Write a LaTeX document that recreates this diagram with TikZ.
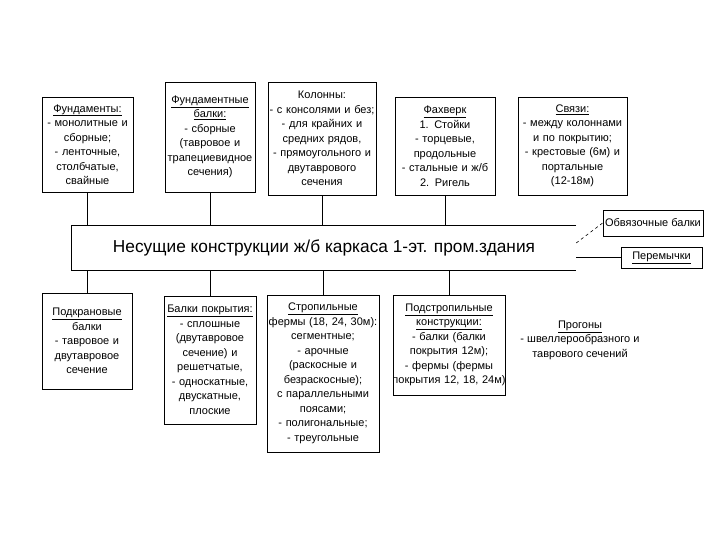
\documentclass[tikz,border=0pt]{standalone}
\usepackage{fontspec}
\setmainfont{Liberation Sans}
\begin{document}
\begin{tikzpicture}[x=1pt,y=-1pt,
  box/.style={draw, line width=0.8pt, align=center, inner sep=0pt, font=\fontsize{11}{14.5}\selectfont},
  plain/.style={align=center, inner sep=1pt, font=\fontsize{11}{14.5}\selectfont},
  conn/.style={line width=0.8pt}]
\fill[white] (0,0) rectangle (720,540);
\useasboundingbox (0,0) rectangle (720,540);
% top row
\node[box, minimum width=91pt, minimum height=95pt, text width=91pt] (f1) at (87.5,144.5)
  {\underline{Фундаменты:}\\- монолитные и\\сборные;\\- ленточные,\\столбчатые,\\свайные};
\node[box, minimum width=90pt, minimum height=110pt, text width=90pt] (f2) at (210,137)
  {\underline{Фундаментные}\\\underline{балки:}\\- сборные\\(тавровое и\\трапециевидное\\сечения)};
\node[box, minimum width=108pt, minimum height=113pt, text width=108pt] (f3) at (322,138.5)
  {Колонны:\\- с консолями и без;\\- для крайних и\\средних рядов,\\- прямоугольного и\\двутаврового\\сечения};
\node[box, minimum width=100pt, minimum height=98pt, text width=100pt] (f4) at (445,146)
  {\underline{Фахверк}\\1. Стойки\\- торцевые,\\продольные\\- стальные и ж/б\\2. Ригель};
\node[box, minimum width=109pt, minimum height=98pt, text width=109pt] (f5) at (572.5,146)
  {\underline{Связи:}\\- между колоннами\\и по покрытию;\\- крестовые (6м) и\\портальные\\(12-18м)};
% main
\node[minimum width=504pt, minimum height=44pt, inner sep=0pt, font=\fontsize{17.3}{20}\selectfont] (main) at (324,248)
  {Несущие конструкции ж/б каркаса 1-эт. пром.здания};
\draw[conn] (main.north east) -- (main.north west) -- (main.south west) -- (main.south east);
% bottom row
\node[box, minimum width=90pt, minimum height=96pt, text width=90pt] (b1) at (87,341)
  {\underline{Подкрановые}\\балки\\- тавровое и\\двутавровое\\сечение};
\node[box, minimum width=92pt, minimum height=128pt, text width=92pt] (b2) at (210,360)
  {\underline{Балки покрытия:}\\- сплошные\\(двутавровое\\сечение) и\\решетчатые,\\- односкатные,\\двускатные,\\плоские};
\node[box, minimum width=112pt, minimum height=157pt, text width=112pt] (b3) at (323,373.5)
  {\underline{Стропильные}\\фермы (18, 24, 30м):\\сегментные;\\- арочные\\(раскосные и\\безраскосные);\\с параллельными\\поясами;\\- полигональные;\\- треугольные};
\node[box, minimum width=112pt, minimum height=100pt, text width=112pt] (b4) at (449,345)
  {\underline{Подстропильные}\\\underline{конструкции:}\\- балки (балки\\покрытия 12м);\\- фермы (фермы\\\makebox[112pt][c]{покрытия 12, 18, 24м)}};
\node[plain] (b5) at (580,340)
  {\underline{Прогоны}\\- швеллерообразного и\\таврового сечений};
% side boxes
\node[box, minimum width=100pt, minimum height=26pt] (obv) at (653,223) {Обвязочные балки};
\node[box, minimum width=81pt, minimum height=21pt] (per) at (661.5,257.5) {\underline{Перемычки}};
% connectors
\foreach \n in {f1,f2,f3,f4}{\draw[conn] (\n.south) -- (\n.south |- main.north);}
\foreach \n in {b1,b2,b3,b4}{\draw[conn] (\n.north) -- (\n.north |- main.south);}
\draw[conn] (main.east |- per.west) -- (per.west);
\draw[dashed, line width=0.6pt] ([yshift=5pt]main.east) -- (obv.west);
\end{tikzpicture}
\end{document}
